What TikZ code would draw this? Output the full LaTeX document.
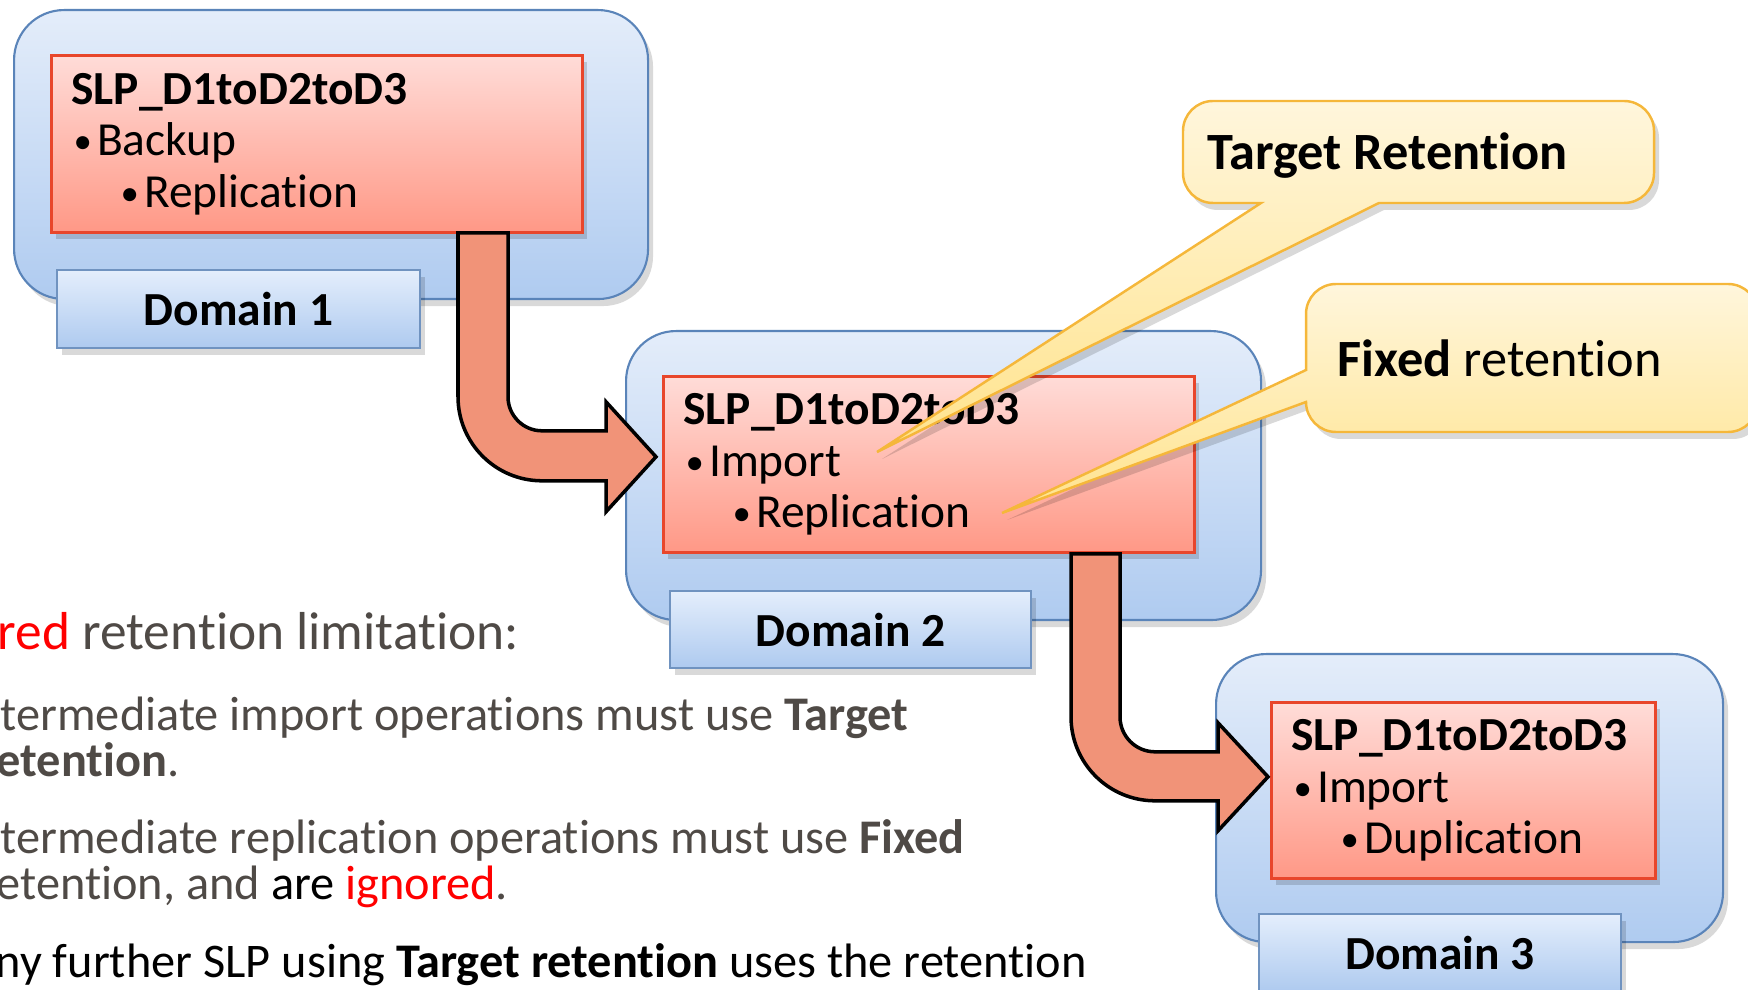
\documentclass[tikz,border=0pt]{standalone}
\usepackage{fontspec}
\setmainfont{Carlito}[Ligatures=NoCommon, RawFeature={-calt}]
\usepackage{xcolor}
\usetikzlibrary{arrows.meta, positioning, calc, shadows}

\definecolor{domtop}{HTML}{E4EDFA}
\definecolor{dombot}{HTML}{AFCBF0}
\definecolor{domline}{HTML}{5A84B9}
\definecolor{slptop}{HTML}{FFDCD8}
\definecolor{slpbot}{HTML}{FF9886}
\definecolor{slpline}{HTML}{E8462B}
\definecolor{labtop}{HTML}{E4EEFC}
\definecolor{labbot}{HTML}{AECAEF}
\definecolor{labline}{HTML}{7093C0}
\definecolor{arrfill}{HTML}{F19378}
\definecolor{caltop}{HTML}{FFF6DC}
\definecolor{calbot}{HTML}{FFE38C}
\definecolor{calline}{HTML}{F5B73A}
\definecolor{notegray}{HTML}{4F4A46}

\newcommand\firstlevel[1]{\makebox[7.3pt][l]{\hspace{0.6pt}\raisebox{0.6pt}{\fontsize{10.5}{10.5}\selectfont\textbullet}}#1}
\newcommand\secondlevel[1]{\hspace*{13.4pt}\firstlevel{#1}}

\begin{document}
\begin{tikzpicture}[x=0.1mm, y=-0.1mm,
    softshadow/.style={drop shadow={shadow xshift=0.5mm, shadow yshift=-0.7mm, fill=black, opacity=0.15}},
    domainbox/.style={draw=domline, line width=0.6pt, rounded corners=5mm, top color=domtop, bottom color=dombot,
        anchor=north west, inner sep=0pt, softshadow},
    slpbox/.style={draw=slpline, line width=0.8pt, top color=slptop, bottom color=slpbot, anchor=north west,
        inner xsep=2mm, inner ysep=0pt, align=left, font=\fontsize{13.5}{14.65}\selectfont, softshadow},
    domainlabel/.style={draw=labline, line width=0.6pt, top color=labtop, bottom color=labbot, anchor=north west,
        inner sep=0pt, font=\fontsize{13.5}{16}\selectfont\bfseries, softshadow},
    bentarrow/.style={draw=black, line width=1pt, fill=arrfill},
    calloutshape/.style={draw=calline, line width=0.7pt, top color=caltop, bottom color=calbot, softshadow},
    callouttext/.style={anchor=base west, inner sep=0pt, font=\fontsize{14.9}{17}\selectfont},
    note/.style={anchor=base west, inner sep=0pt, text=notegray, font=\fontsize{13.75}{16}\selectfont}]
    \useasboundingbox (0,0) rectangle (1748,990);
    \clip (0,0) rectangle (1748,990);

    % notes on the left
    \node[note, font=\fontsize{15.2}{18}\selectfont] (lim) at (-3,650) {\textcolor{red}{red} retention limitation:};
    \node[note] (imp1) at (0,730) {termediate import operations must use \textbf{Target}};
    \node[note] (imp2) at (-4,776) {\textbf{etention}.};
    \node[note] (rep1) at (0,853) {termediate replication operations must use \textbf{Fixed}};
    \node[note] (rep2) at (-4,899) {etention, and \textcolor{black}{are} \textcolor{red}{ignored}.};
    \node[note, text=black] (further) at (-5,977) {ny further SLP using \textbf{Target retention} uses the retention};

    % domains
    \node[domainbox, minimum width=63.4mm, minimum height=28.9mm] (dom1) at (13,9) {};
    \node[domainbox, minimum width=63.5mm, minimum height=28.9mm] (dom2) at (625,330) {};
    \node[domainbox, minimum width=50.7mm, minimum height=28.8mm] (dom3) at (1215,653) {};

    \node[slpbox, text width=49.1mm, minimum height=17.7mm] (slp1) at (50,54)
        {\textbf{SLP\_D1toD2toD3}\\\firstlevel{Backup}\\\secondlevel{Replication}};
    \node[slpbox, text width=49.1mm, minimum height=17.6mm] (slp2) at (662,375)
        {\textbf{SLP\_D1toD2toD3}\\\firstlevel{Import}\\\secondlevel{Replication}};
    \node[slpbox, text width=34.4mm, minimum height=17.6mm] (slp3) at (1270,701)
        {\textbf{SLP\_D1toD2toD3}\\\firstlevel{Import}\\\secondlevel{Duplication}};

    \node[domainlabel, minimum width=36.3mm, minimum height=7.8mm] (lab1) at (56,269) {Domain 1};
    \node[domainlabel, minimum width=36.1mm, minimum height=7.7mm] (lab2) at (669,590) {Domain 2};
    \node[domainlabel, minimum width=36.2mm, minimum height=7.8mm] (lab3) at (1258,913) {Domain 3};

    % bent arrows between the SLPs
    \draw[bentarrow] (slp1.south west) ++(408,-1) -- ++(0,164) arc[start angle=180, end angle=90, radius=84]
        -- ++(64,0) -- ++(0,31) -- ++(50,-55) -- ++(-50,-55) -- ++(0,29) -- ++(-64,0)
        arc[start angle=90, end angle=180, radius=34] -- ++(0,-164) -- cycle;
    \draw[bentarrow] (slp2.south west) ++(409,0) -- ++(0,163) arc[start angle=180, end angle=90, radius=84]
        -- ++(63,0) -- ++(0,30) -- ++(50,-54) -- ++(-50,-54) -- ++(0,29) -- ++(-63,0)
        arc[start angle=90, end angle=180, radius=35] -- ++(0,-163) -- cycle;

    % callouts
    \coordinate (tiptgt) at (877,452);
    \coordinate (tipfix) at (1002,513);
    \path[calloutshape] (1183,131) arc[start angle=180, end angle=270, radius=30] -- (1624,101)
        arc[start angle=270, end angle=360, radius=30] -- (1654,173)
        arc[start angle=0, end angle=90, radius=30] -- (1379,203) -- (tiptgt) -- (1261,203) -- (1213,203)
        arc[start angle=90, end angle=180, radius=30] -- cycle;
    \path[calloutshape] (1306,314) arc[start angle=180, end angle=270, radius=30] -- (1728,284)
        arc[start angle=270, end angle=360, radius=30] -- (1758,402)
        arc[start angle=0, end angle=90, radius=30] -- (1336,432)
        arc[start angle=90, end angle=180, radius=30] -- (tipfix) -- (1306,370) -- cycle;
    \node[callouttext] (tgtret) at (1207,170) {\textbf{Target Retention}};
    \node[callouttext] (fixret) at (1337,377) {\textbf{Fixed} retention};
\end{tikzpicture}
\end{document}
